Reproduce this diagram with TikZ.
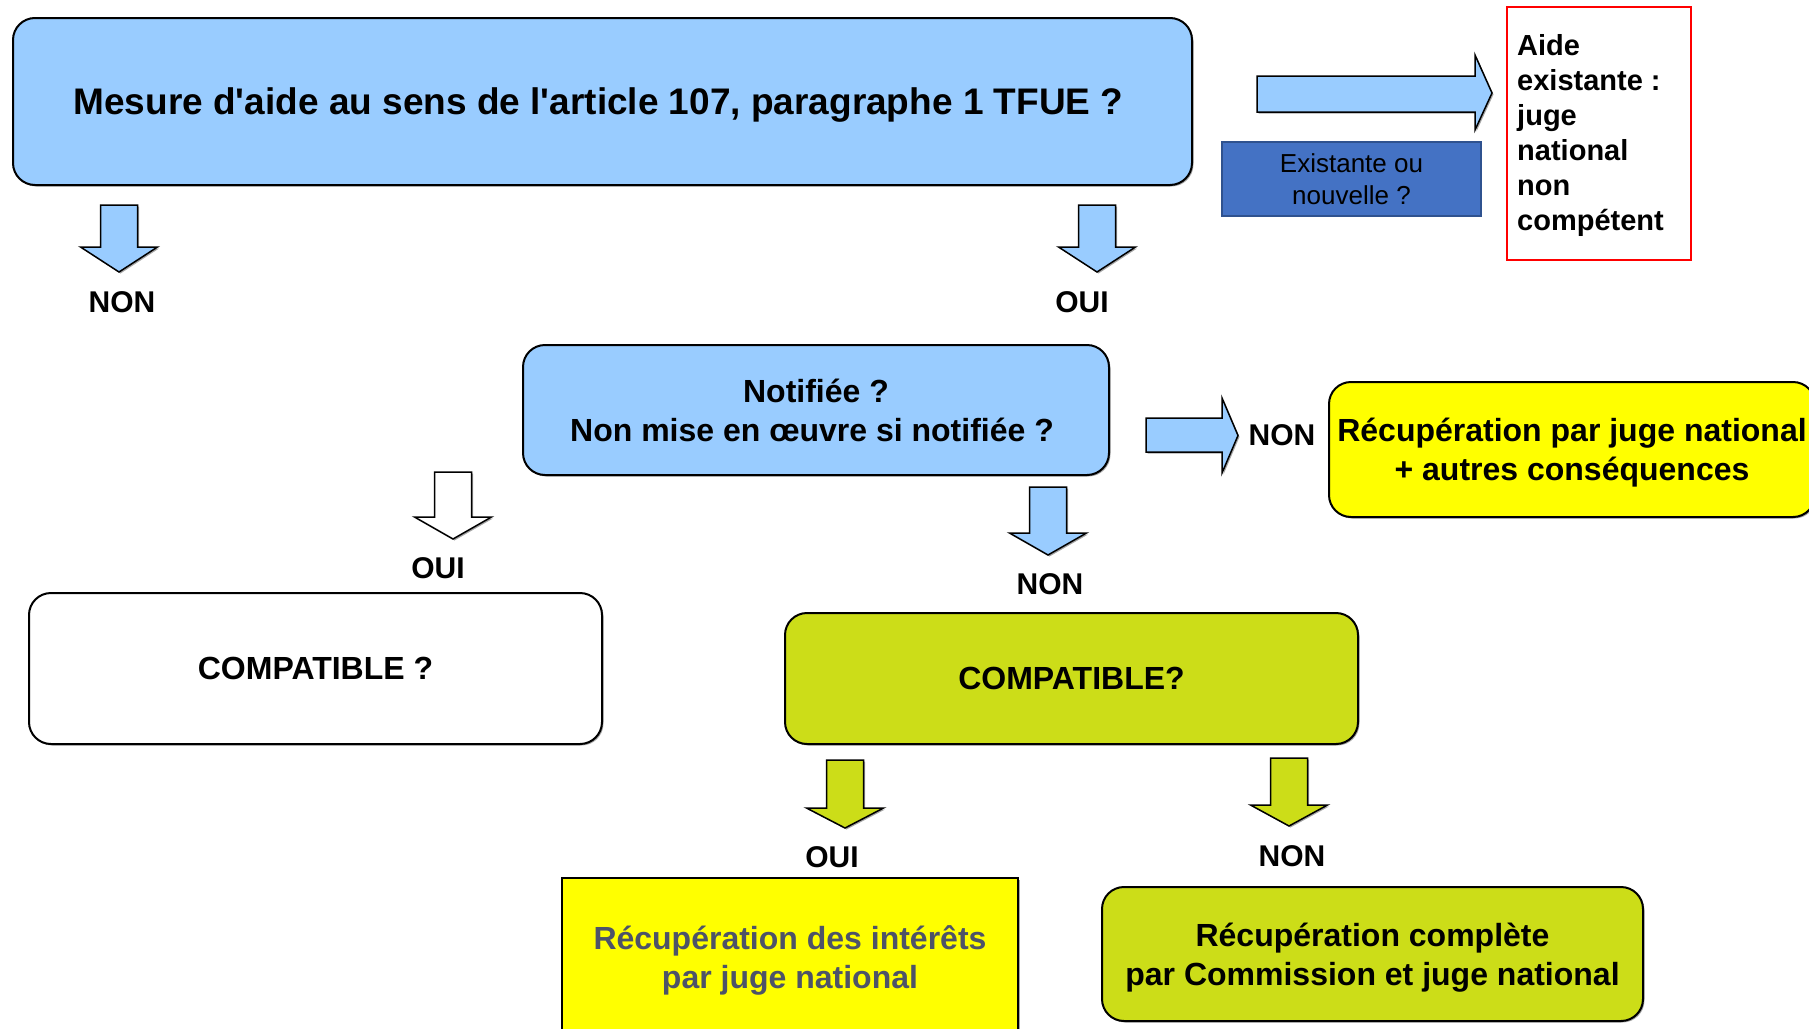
\documentclass[tikz,border=0pt]{standalone}
\usepackage{fontspec}
\usetikzlibrary{shadows}
\setmainfont{Liberation Sans}
\definecolor{lblue}{HTML}{99CCFF}
\definecolor{dblue}{HTML}{4472C4}
\definecolor{dbluedraw}{HTML}{2F528F}
\definecolor{lgreen}{HTML}{CCDD18}
\definecolor{yel}{HTML}{FFFF00}
\definecolor{graytxt}{HTML}{4D5368}
\newcommand{\dnarrow}[5]{%
  \draw[#1] (#2-18.5,#3) -- (#2+18.5,#3) -- (#2+18.5,#4) -- (#2+38.5,#4) -- (#2,#5) -- (#2-38.5,#4) -- (#2-18.5,#4) -- cycle;}
\begin{document}
\begin{tikzpicture}[x=1pt,y=-1pt,
  shd/.style={drop shadow={shadow xshift=1.5pt, shadow yshift=-1.5pt, fill=black, opacity=0.35}},
  box/.style={draw=black, line width=2pt, rounded corners=22pt, inner sep=0pt, align=center, shd},
  sqbox/.style={draw=black, line width=2pt, inner sep=0pt, align=center, shd},
  big/.style={font=\fontsize{32}{39}\selectfont\bfseries},
  lbl/.style={font=\fontsize{30}{36}\selectfont\bfseries, inner sep=0pt},
  blk/.style={draw=black, line width=1.5pt, line join=miter, shd}]
\useasboundingbox (0,0) rectangle (1809,1028);
\fill[white] (0,0) rectangle (1809,1028);

% top box
\node[box, fill=lblue, minimum width=1179pt, minimum height=167pt, text depth=0pt,
      font=\fontsize{37}{44}\selectfont\bfseries] (q1) at (602.5,101.5)
  {Mesure d\textquotesingle aide au sens de l\textquotesingle article 107, paragraphe 1 TFUE ?\hspace*{8pt}};

% existante ou nouvelle
\node[draw=dbluedraw, line width=2pt, fill=dblue, minimum width=259pt, minimum height=74pt,
      inner sep=0pt, align=center, font=\fontsize{26}{32}\selectfont] (exn) at (1351.5,179)
  {Existante ou\\nouvelle ?};

% red box
\node[draw=red, line width=2pt, minimum width=184pt, minimum height=253pt] (red) at (1599,133.5) {};
\node[anchor=north west, align=left, inner sep=0pt, font=\fontsize{29}{35}\selectfont\bfseries] (redtxt) at (1517,34)
  {Aide\\existante :\\juge\\national\\non\\compétent};

% top right arrow
\draw[blk, fill=lblue] (1257,76) -- (1475,76) -- (1475,55) -- (1492,93) -- (1475,130) -- (1475,112) -- (1257,112) -- cycle;

% top down arrows
\dnarrow{blk, fill=lblue}{119}{205}{247}{272}
\dnarrow{blk, fill=lblue}{1097}{205}{247}{272}
\node[lbl] (non1) at (122,302) {NON};
\node[lbl] (oui1) at (1082,302) {OUI};

% Notifiee box
\node[box, big, fill=lblue, minimum width=586pt, minimum height=130pt] (notif) at (816,410)
  {Notifiée ?\\Non mise en œuvre si notifiée ?\hspace*{8pt}};

% middle right arrow
\draw[blk, fill=lblue] (1146,418) -- (1222,418) -- (1222,398) -- (1238,435.5) -- (1222,473) -- (1222,452) -- (1146,452) -- cycle;
\node[lbl] (non2) at (1282,435) {NON};

% yellow right box
\node[box, big, fill=yel, minimum width=486pt, minimum height=135pt, text depth=0pt] (recup1) at (1572,449.5)
  {Récupération par juge national\\+ autres conséquences};

% arrows below notifiee
\dnarrow{blk, fill=white}{453}{472}{517}{539}
\node[lbl] (oui2) at (438,568) {OUI};
\dnarrow{blk, fill=lblue}{1048}{487}{533}{555}
\node[lbl] (non3) at (1050,584) {NON};

% compatible boxes
\node[box, big, fill=white, minimum width=573pt, minimum height=151pt] (compa1) at (315.5,668.5) {COMPATIBLE ?};
\node[box, big, fill=lgreen, minimum width=573pt, minimum height=131pt] (compa2) at (1071.5,678.5) {COMPATIBLE?};

% green arrows
\dnarrow{blk, fill=lgreen}{845}{760}{808}{828}
\node[lbl] (oui3) at (832,857) {OUI};
\dnarrow{blk, fill=lgreen}{1289}{758}{805}{826}
\node[lbl] (non4) at (1292,856) {NON};

% bottom boxes
\node[sqbox, big, fill=yel, text=graytxt, minimum width=456pt, minimum height=164pt] (recup2) at (790,960)
  {Récupération des intérêts\\par juge national};
\node[box, big, fill=lgreen, minimum width=541pt, minimum height=134pt, text depth=0pt] (recup3) at (1372.5,954)
  {Récupération complète\\par Commission et juge national};
\end{tikzpicture}
\end{document}
